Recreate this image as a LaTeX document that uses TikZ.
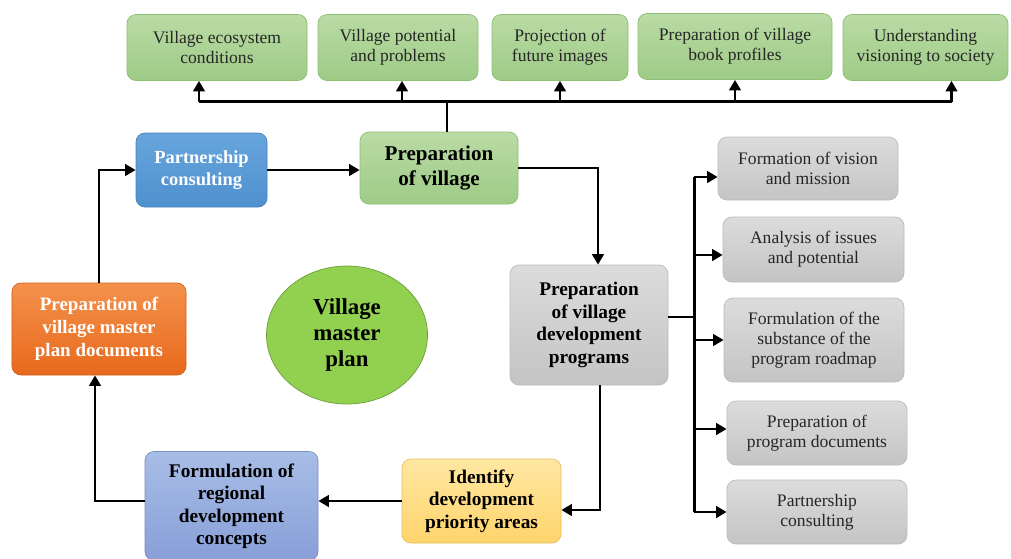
\documentclass[tikz,border=0pt]{standalone}
\usepackage{fontspec}
\setmainfont{Liberation Serif}
\usepackage{xcolor}
\usepackage{tikz}
\usetikzlibrary{shapes.geometric, arrows.meta, positioning}
\definecolor{greentop}{HTML}{BADBA5}
\definecolor{greenbot}{HTML}{9ECB86}
\definecolor{greenline}{HTML}{8DBF74}
\definecolor{graytop}{HTML}{DCDCDC}
\definecolor{graybot}{HTML}{C4C4C4}
\definecolor{grayline}{HTML}{BBBBBB}
\definecolor{bluetop}{HTML}{67A5DC}
\definecolor{bluebot}{HTML}{4F90CF}
\definecolor{orangetop}{HTML}{F4914C}
\definecolor{orangebot}{HTML}{E8691C}
\definecolor{yellowtop}{HTML}{FFE7A2}
\definecolor{yellowbot}{HTML}{FFD46C}
\definecolor{lavtop}{HTML}{A8BDE6}
\definecolor{lavbot}{HTML}{889FD8}
\definecolor{planfill}{HTML}{92D050}

\begin{document}
\begin{tikzpicture}[
        box/.style={rectangle, draw, rounded corners=0.18cm, align=center, inner sep=0pt, font=\fontsize{10}{11.5}\selectfont, text=black!85},
        topbox/.style={box, top color=greentop, bottom color=greenbot, draw=greenline, minimum height=1.32cm},
        stepbox/.style={box, top color=graytop, bottom color=graybot, draw=grayline, minimum width=3.6cm},
        keybox/.style={box, text=black, font=\bfseries\fontsize{11}{12.8}\selectfont},
        line/.style={line width=1.5pt, draw=black},
        arrow/.style={line, -{Triangle[length=2.1mm, width=2.3mm]}}
    ]
        \useasboundingbox (0,0) rectangle (20.22,-11.16);

        \node[topbox, minimum width=3.6cm] (eco) at (4.34,-0.95) {Village ecosystem\\conditions};
        \node[topbox, minimum width=3.2cm] (pot) at (7.96,-0.95) {Village potential\\and problems};
        \node[topbox, minimum width=2.72cm] (proj) at (11.2,-0.95) {Projection of\\future images};
        \node[topbox, minimum width=3.88cm] (book) at (14.7,-0.93) {Preparation of village\\book profiles};
        \node[topbox, minimum width=3.3cm] (soc) at (18.51,-0.95) {Understanding\\visioning to society};

        \node[keybox, top color=bluetop, bottom color=bluebot, draw=bluebot!90!black, text=white, font=\bfseries\fontsize{10.5}{12.5}\selectfont, minimum width=2.62cm, minimum height=1.48cm] (part) at (4.03,-3.4) {Partnership\\consulting};
        \node[keybox, top color=greentop, bottom color=greenbot, draw=greenline, font=\bfseries\fontsize{12}{14}\selectfont, minimum width=3.16cm, minimum height=1.44cm] (prepv) at (8.78,-3.36) {Preparation\\of village};
        \node[keybox, top color=graytop, bottom color=graybot, draw=grayline, minimum width=3.16cm, minimum height=2.4cm] (prog) at (11.78,-6.5) {Preparation\\of village\\development\\programs};
        \node[keybox, top color=orangetop, bottom color=orangebot, draw=orangebot!90!black, text=white, font=\bfseries\fontsize{10.8}{13}\selectfont, minimum width=3.48cm, minimum height=1.84cm] (mp) at (1.98,-6.58) {Preparation of\\village master\\plan documents};
        \node[ellipse, draw=planfill!75!black, fill=planfill, align=center, inner sep=0pt, font=\bfseries\fontsize{13}{15}\selectfont, minimum width=3.22cm, minimum height=2.76cm] (plan) at (6.94,-6.7) {Village\\master\\plan};
        \node[keybox, top color=yellowtop, bottom color=yellowbot, draw=yellowbot!90!black, minimum width=3.18cm, minimum height=1.68cm] (ident) at (9.63,-10.02) {Identify\\development\\priority areas};
        \node[keybox, top color=lavtop, bottom color=lavbot, draw=lavbot!90!black, minimum width=3.46cm, minimum height=2.18cm] (reg) at (4.63,-10.12) {Formulation of\\regional\\development\\concepts};

        \node[stepbox, minimum height=1.26cm] (fv) at (16.16,-3.37) {Formation of vision\\and mission};
        \node[stepbox, minimum width=3.62cm, minimum height=1.3cm] (ai) at (16.27,-4.99) {Analysis of issues\\and potential};
        \node[stepbox, minimum height=1.68cm] (fs) at (16.28,-6.8) {Formulation of the\\substance of the\\program roadmap};
        \node[stepbox, minimum height=1.28cm] (pd) at (16.34,-8.66) {Preparation of\\program documents};
        \node[stepbox, minimum height=1.28cm] (pc) at (16.34,-10.24) {Partnership\\consulting};

        \draw[line] ([xshift=0.16cm]prepv.north) -- ++(0,0.6) coordinate (bus);
        \foreach \n/\dx in {eco/-0.36, pot/0.08, proj/0, book/0, soc/0.52} {
            \coordinate (\n-in) at ([xshift=\dx cm]\n.south);
            \draw[arrow] (\n-in |- bus) -- (\n-in);
        }
        \draw[line] (eco-in |- bus) -- (soc-in |- bus);

        \draw[arrow] (mp.north) |- (part.west);
        \draw[arrow] (part.east) -- (part.east -| prepv.west);
        \draw[arrow] (prepv.east) -| ([xshift=0.18cm]prog.north);

        \draw[line] ([yshift=0.16cm]prog.east) -- ++(0.52,0) coordinate (rb);
        \foreach \n/\dy in {fv/-0.17, ai/-0.11, fs/0, pd/0.08, pc/0} {
            \coordinate (\n-in) at ([yshift=\dy cm]\n.west);
            \draw[arrow] (rb |- \n-in) -- (\n-in);
        }
        \draw[line] (rb |- fv-in) -- (rb |- pc-in);

        \draw[arrow] ([xshift=0.22cm]prog.south) |- ([yshift=-0.18cm]ident.east);
        \draw[arrow] (ident.west) -- (ident.west -| reg.east);
        \draw[arrow] (ident.west -| reg.west) -| ([xshift=-0.08cm]mp.south);
    \end{tikzpicture}
\end{document}
